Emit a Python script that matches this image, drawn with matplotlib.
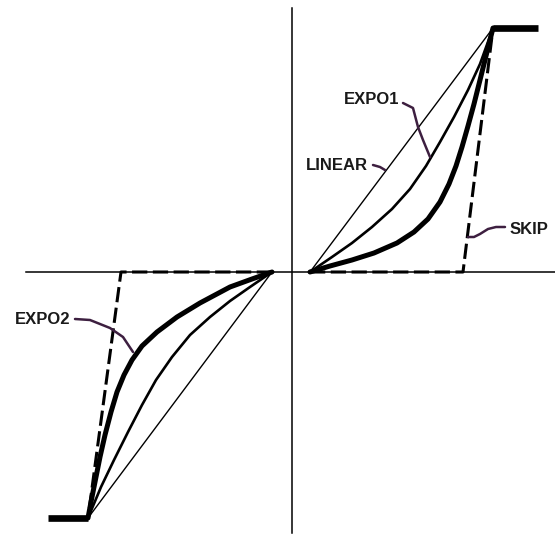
import matplotlib
matplotlib.use('Agg')
import matplotlib.pyplot as plt

# stick curves, units = offset from centre of the cross (x right, y up)
# upper right branch
lin_up_x = [18, 201]
lin_up_y = [0, 244]
expo1_x = [18, 40, 60, 80, 100, 118, 134, 148, 162, 176, 188, 201]
expo1_y = [0, 15, 29, 45, 63, 83, 106, 130, 155, 182, 208, 244]
expo1b_x = [18, 38, 60, 82, 105, 122, 136, 148, 157, 164, 170, 176, 182, 188, 194, 201]
expo1b_y = [0, 6, 12, 19, 29, 40, 53, 70, 88, 106, 125, 146, 168, 192, 216, 244]
skip_up_x = [18, 171, 201]
skip_up_y = [0, 0, 244]
top_x = [201, 246]
top_y = [244, 244]

# lower left branch
lin_lo_x = [-20, -204]
lin_lo_y = [0, -246]
expo2a_x = [-20, -42, -62, -82, -102, -120, -136, -150, -164, -178, -191, -204]
expo2a_y = [0, -15, -29, -45, -63, -85, -108, -133, -160, -188, -215, -246]
expo2_x = [-20, -40, -62, -92, -115, -135, -150, -160, -168, -175, -181, -187, -192, -197, -201, -204]
expo2_y = [0, -7, -15, -31, -45, -60, -74, -88, -103, -120, -140, -163, -185, -210, -230, -246]
skip_lo_x = [-20, -171, -204]
skip_lo_y = [0, 0, -246]
bot_x = [-244, -204]
bot_y = [-246, -246]

# labels and their leader squiggles
labels = ['EXPO1', 'LINEAR', 'SKIP', 'EXPO2']
label_x = [80, 45, 237, -249]
label_y = [172, 107, 42, -47]
lead_expo1 = ([111, 121, 126, 131, 138], [169, 164, 145, 132, 115])
lead_linear = ([81, 88, 93], [107, 105, 102])
lead_skip = ([213, 204, 196, 188, 182, 176], [45, 45, 43, 38, 35, 35])
lead_expo2 = ([-217, -202, -182, -169, -159], [-47, -48, -56, -65, -80])

fig = plt.figure(figsize=(5.55, 5.36), dpi=100)
ax = fig.add_axes([0, 0, 1, 1])
ax.set_xlim(-292, 263)
ax.set_ylim(-264, 272)
ax.axis('off')

# the cross
ax.plot([-266, 263], [0, 0], color='black', lw=1.1)
ax.plot([0, 0], [264, -261], color='black', lw=1.1)

ink = 'black'
smooth = dict(solid_capstyle='round', solid_joinstyle='round')
ax.plot(lin_up_x, lin_up_y, color=ink, lw=1.0)
ax.plot(expo1_x, expo1_y, color=ink, lw=1.9, **smooth)
ax.plot(expo1b_x, expo1b_y, color=ink, lw=3.6, **smooth)
ax.plot(skip_up_x, skip_up_y, color=ink, lw=2.2, dashes=(5, 1.8))
ax.plot(top_x, top_y, color=ink, lw=4.8, solid_capstyle='butt')

ax.plot(lin_lo_x, lin_lo_y, color=ink, lw=1.0)
ax.plot(expo2a_x, expo2a_y, color=ink, lw=1.9, **smooth)
ax.plot(expo2_x, expo2_y, color=ink, lw=3.6, **smooth)
ax.plot(skip_lo_x, skip_lo_y, color=ink, lw=2.2, dashes=(5, 1.8))
ax.plot(bot_x, bot_y, color=ink, lw=4.8, solid_capstyle='butt')

lead_col = '#3d1f40'
for lx, ly in [lead_expo1, lead_linear, lead_skip, lead_expo2]:
    ax.plot(lx, ly, color=lead_col, lw=1.8, **smooth)

for t, x, y in zip(labels, label_x, label_y):
    ax.text(x, y, t, ha='center', va='center', fontsize=12, fontweight='bold',
            family='Liberation Sans', color='#1a1a1a')

fig.savefig('out.png', dpi=100)
